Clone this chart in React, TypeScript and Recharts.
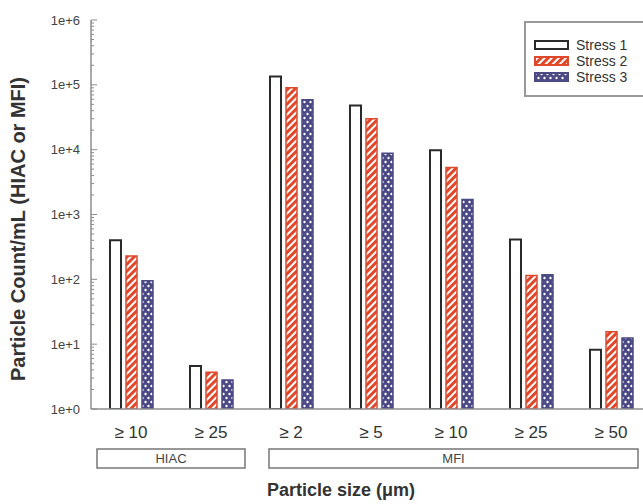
import { BarChart, Bar, XAxis, YAxis, Legend, Label } from 'recharts';

// particle size classes, instrument per class
const sizes = ['≥ 10', '≥ 25', '≥ 2', '≥ 5', '≥ 10', '≥ 25', '≥ 50'];
const instruments = ['HIAC', 'HIAC', 'MFI', 'MFI', 'MFI', 'MFI', 'MFI'];

// counts per mL
const stress1 = [400, 4.6, 135000, 48000, 9800, 410, 8.2];
const stress2 = [230, 3.7, 90000, 30000, 5300, 115, 15.5];
const stress3 = [95, 2.8, 59000, 8800, 1700, 118, 12.5];

const seriesNames = ['Stress 1', 'Stress 2', 'Stress 3'];

const majorTicks = [1, 10, 100, 1000, 10000, 100000, 1000000];
const minorTicks = majorTicks.slice(0, -1).flatMap(d => [2, 3, 4, 5, 6, 7, 8, 9].map(m => m * d));

const instrumentBoxes = [
  { name: 'HIAC', first: 0, last: 1, padL: 34, padR: 34 },
  { name: 'MFI', first: 2, last: 6, padL: 22, padR: 27 },
];

const data = sizes.map((s, i) => ({
  key: `${instruments[i]} ${s}`,
  s1: stress1[i],
  s2: stress2[i],
  s3: stress3[i],
}));

const BAND = 80;
const AXIS_COLOR = '#8c8c8c';
const TEXT_COLOR = '#333';
const RED = '#e0482c';
const NAVY = '#4b4a85';
const FONT = '"Liberation Sans", Arial, Helvetica, sans-serif';

const seriesStyle = [
  { fill: '#fff', stroke: '#2a2a2a', strokeWidth: 2 },
  { fill: 'url(#stripes)', stroke: RED, strokeWidth: 1.5 },
  { fill: 'url(#dots)', stroke: NAVY, strokeWidth: 1.5 },
];

function CountTick({ x, y, payload }: any) {
  const v = payload.value;
  const major = majorTicks.includes(v);
  return (
    <g>
      <line x1={x} x2={x + (major ? 6 : 3)} y1={y} y2={y} stroke={AXIS_COLOR} strokeWidth={1} />
      {major && (
        <text x={x - 11} y={y} dy={4.5} textAnchor="end" fontSize={13} fill="#444">
          {`1e+${Math.round(Math.log10(v))}`}
        </text>
      )}
    </g>
  );
}

function SizeTick({ x, y, index }: any) {
  const box = instrumentBoxes.find(b => b.first === index);
  let boxEl = null;
  if (box) {
    const w = (box.last - box.first) * BAND + box.padL + box.padR;
    const left = x - box.padL;
    boxEl = (
      <g>
        <rect x={left} y={y + 40} width={w} height={19} fill="none" stroke="#777" strokeWidth={1.5} />
        <text x={left + w / 2} y={y + 54} textAnchor="middle" fontSize={13} fill="#444">{box.name}</text>
      </g>
    );
  }
  return (
    <g>
      <text x={x} y={y + 29} textAnchor="middle" fontSize={17} fill={TEXT_COLOR}>{sizes[index]}</text>
      {boxEl}
    </g>
  );
}

function StressLegend() {
  return (
    <div style={{ border: '2px solid #999', background: '#fff', height: 76, paddingTop: 14, boxSizing: 'border-box' }}>
      {seriesNames.map((name, i) => (
        <div key={name} style={{ display: 'flex', alignItems: 'center', height: 16, paddingLeft: 8 }}>
          <svg width={36} height={11} style={{ display: 'block' }}>
            <rect x={1} y={1} width={33} height={8} fill={seriesStyle[i].fill} stroke={seriesStyle[i].stroke} strokeWidth={2} />
          </svg>
          <span style={{ fontSize: 14, color: TEXT_COLOR, marginLeft: 6, fontFamily: FONT }}>{name}</span>
        </div>
      ))}
    </div>
  );
}

export default function App() {
  return (
    <div style={{ position: 'fixed', left: 0, top: 0, width: 643, height: 504, overflow: 'hidden', background: '#fff', fontFamily: FONT }}>
      <BarChart width={660} height={504} data={data} margin={{ top: 20, right: 9, left: 0, bottom: 0 }} barSize={11} barGap={5}>
        <defs>
          <pattern id="stripes" patternUnits="userSpaceOnUse" width={5} height={5} patternTransform="rotate(45)">
            <rect width={5} height={5} fill="#fff" />
            <rect width={3} height={5} fill={RED} />
          </pattern>
          <pattern id="dots" patternUnits="userSpaceOnUse" width={6} height={8}>
            <rect width={6} height={8} fill={NAVY} />
            <circle cx={1.5} cy={2} r={1.2} fill="#fff" />
            <circle cx={4.5} cy={6} r={1.2} fill="#fff" />
          </pattern>
        </defs>
        <XAxis
          xAxisId="cat"
          dataKey="key"
          interval={0}
          height={95}
          tickLine={false}
          tickSize={0}
          tickMargin={0}
          tick={<SizeTick />}
          axisLine={{ stroke: AXIS_COLOR, strokeWidth: 1.5 }}
        >
          <Label
            value="Particle size (μm)"
            position="insideBottom"
            offset={8}
            dx={-30}
            style={{ fontSize: 18, fontWeight: 'bold', fill: TEXT_COLOR }}
          />
        </XAxis>
        <XAxis
          xAxisId="frame"
          dataKey="key"
          orientation="top"
          height={0}
          tick={false}
          tickLine={false}
          axisLine={{ stroke: AXIS_COLOR, strokeWidth: 1.5 }}
        />
        <YAxis
          yAxisId="count"
          type="number"
          scale="log"
          domain={[1, 1000000]}
          allowDataOverflow
          ticks={[...majorTicks, ...minorTicks]}
          interval={0}
          width={91}
          tickLine={false}
          tickSize={0}
          tickMargin={0}
          tick={<CountTick />}
          axisLine={{ stroke: AXIS_COLOR, strokeWidth: 1.5 }}
        >
          <Label
            content={() => (
              <text x={25} y={229} transform="rotate(-90 25 229)" textAnchor="middle" fontSize={20} fontWeight="bold" fill={TEXT_COLOR}>
                Particle Count/mL (HIAC or MFI)
              </text>
            )}
          />
        </YAxis>
        <Legend
          layout="horizontal"
          verticalAlign="middle"
          align="center"
          content={<StressLegend />}
          wrapperStyle={{ left: 524, top: 21, width: 140 }}
        />
        {['s1', 's2', 's3'].map((k, i) => (
          <Bar
            key={k}
            dataKey={k}
            name={seriesNames[i]}
            xAxisId="cat"
            yAxisId="count"
            fill={seriesStyle[i].fill}
            stroke={seriesStyle[i].stroke}
            strokeWidth={seriesStyle[i].strokeWidth}
            isAnimationActive={false}
          />
        ))}
      </BarChart>
    </div>
  );
}
